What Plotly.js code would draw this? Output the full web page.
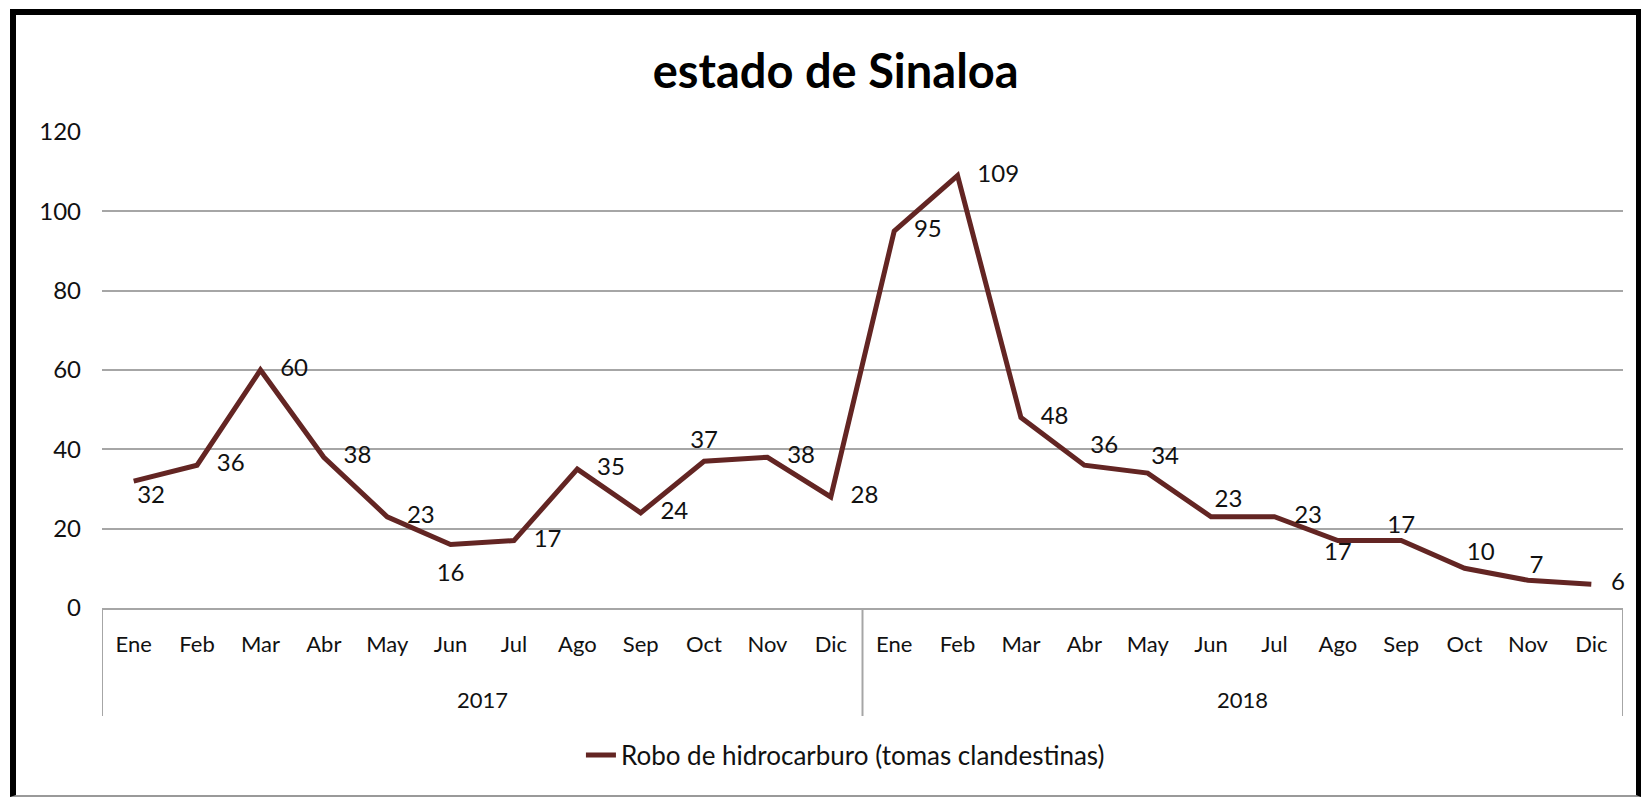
<!DOCTYPE html>
<html>
<head>
<meta charset="utf-8">
<script src="https://cdn.plot.ly/plotly-3.0.1.min.js"></script>
<style>
  body { margin: 0; background: #fff; }
  #frame {
    position: absolute; left: 10px; top: 9px;
    border-top: 6px solid #000; border-left: 6px solid #000;
    border-right: 5px solid #000; border-bottom: 2px solid #999;
  }
  #chart { width: 1620px; height: 780px; }
</style>
</head>
<body>
<div id="frame"><div id="chart"></div></div>
<script>
// Robo de hidrocarburo (tomas clandestinas), estado de Sinaloa
const years = ["2017", "2018"];
const months = ["Ene", "Feb", "Mar", "Abr", "May", "Jun", "Jul", "Ago", "Sep", "Oct", "Nov", "Dic"];
const tomas2017 = [32, 36, 60, 38, 23, 16, 17, 35, 24, 37, 38, 28];
const tomas2018 = [95, 109, 48, 36, 34, 23, 23, 17, 17, 10, 7, 6];

// where each data label sits relative to its point, and how far off it
const labelPos = [
  "bottom right", "middle right", "middle right", "middle right", "middle right", "bottom center",
  "middle right", "middle right", "middle right", "top center", "middle right", "middle right",
  "middle right", "middle right", "middle right", "top right", "top right", "top right",
  "middle right", "bottom center", "top center", "top right", "top right", "middle right",
];
const labelGap = [
  4, 30, 30, 30, 30, 28,
  30, 30, 30, 10, 30, 30,
  30, 30, 30, 8, 4, 4,
  30, 1, 1, 2, 1, 30,
];

const values = tomas2017.concat(tomas2018);
const xs = values.map((v, i) => i);
const tickText = [];
const hoverText = [];
years.forEach((yr) => {
  months.forEach((m) => {
    tickText.push(m);
    hoverText.push(m + " " + yr);
  });
});

const font = "Lato, 'Open Sans', sans-serif";
const lineColor = "#632523";
const axisGray = "#a6a6a6";

// plot area height in px, used to place the year row and its dividers below the axis
const plotH = 780 - 117 - 187;

const trace = {
  x: xs,
  y: values,
  type: "scatter",
  mode: "lines+markers+text",
  name: "Robo de hidrocarburo (tomas clandestinas)",
  line: { color: lineColor, width: 5 },
  // invisible markers only push the labels away from the line
  marker: { size: labelGap, color: "rgba(0,0,0,0)", line: { width: 0, color: "rgba(0,0,0,0)" } },
  text: values.map(String),
  textposition: labelPos,
  textfont: { family: font, size: 24, color: "#111" },
  cliponaxis: false,
  hovertext: hoverText,
  hoverinfo: "text+y",
};

// year group dividers and year labels
const shapes = [];
const annotations = [];
years.forEach((yr, g) => {
  const start = g * months.length - 0.5;
  shapes.push({
    type: "line", xref: "x", yref: "paper",
    x0: start, x1: start, y0: 0, y1: -108 / plotH,
    line: { color: axisGray, width: 2 },
  });
  annotations.push({
    text: yr, xref: "x", yref: "paper",
    x: start + months.length / 2, y: -91 / plotH,
    xanchor: "center", yanchor: "middle", showarrow: false,
    font: { family: font, size: 22, color: "#111" },
  });
});
const end = xs.length - 0.5;
shapes.push({
  type: "line", xref: "x", yref: "paper",
  x0: end, x1: end, y0: 0, y1: -108 / plotH,
  line: { color: axisGray, width: 2 },
});

const layout = {
  width: 1620,
  height: 780,
  margin: { l: 86, r: 13, t: 117, b: 187 },
  paper_bgcolor: "#fff",
  plot_bgcolor: "#fff",
  font: { family: font, color: "#111" },
  hovermode: "closest",
  title: {
    text: "<b>estado de Sinaloa</b>",
    font: { family: font, size: 47, color: "#000" },
    x: 0.506,
    xref: "container",
    xanchor: "center",
    y: 0.928,
    yref: "container",
    yanchor: "middle",
  },
  xaxis: {
    range: [-0.5, xs.length - 0.5],
    tickvals: xs,
    ticktext: tickText,
    showgrid: false,
    zeroline: false,
    showline: true,
    linecolor: axisGray,
    linewidth: 2,
    ticks: "",
    ticklabelstandoff: 16,
    tickfont: { family: font, size: 22, color: "#111" },
  },
  yaxis: {
    range: [0, 120],
    dtick: 20,
    showgrid: true,
    gridcolor: axisGray,
    gridwidth: 2,
    zeroline: false,
    showline: false,
    tickfont: { family: font, size: 24, color: "#111" },
    ticklabelstandoff: 20,
  },
  shapes: shapes,
  annotations: annotations,
  showlegend: true,
  legend: {
    orientation: "h",
    xref: "container",
    yref: "container",
    x: 0.512,
    xanchor: "center",
    y: 0.051,
    yanchor: "middle",
    font: { family: font, size: 26, color: "#111" },
  },
};

Plotly.newPlot("chart", [trace], layout, { displayModeBar: false });
</script>
</body>
</html>
